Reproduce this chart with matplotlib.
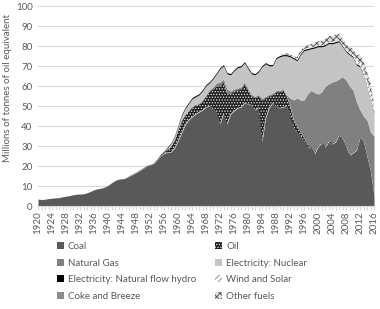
import numpy as np
import matplotlib
matplotlib.use("Agg")
import matplotlib.pyplot as plt
from matplotlib.patches import Patch

plt.rcParams['font.family'] = ['Lato', 'DejaVu Sans']
plt.rcParams['hatch.linewidth'] = 0.6

years = list(range(1920, 2017))

coal = [3.5, 3.2, 3.4, 3.7, 3.9, 4.1, 4.2, 4.6, 4.9, 5.2,
        5.5, 5.8, 5.8, 6.0, 6.5, 7.2, 8.0, 8.5, 8.8, 9.3,
        10.2, 11.5, 12.6, 13.3, 13.5, 13.8, 14.8, 15.6, 16.6, 17.6,
        18.7, 19.8, 20.3, 21.0, 23.0, 25.0, 26.3, 26.8, 27.0, 29.0,
        32.5, 36.5, 40.5, 43.0, 44.5, 46.0, 47.0, 48.0, 49.5, 50.0,
        48.5, 47.0, 41.0, 46.5, 41.0, 46.0, 47.5, 49.0, 49.5, 51.5,
        51.0, 50.5, 48.0, 49.5, 32.0, 44.0, 49.0, 51.5, 50.0, 49.0,
        49.5, 50.0, 46.0, 39.0, 37.0, 35.0, 32.5, 29.5, 29.0, 26.0,
        29.5, 31.5, 29.5, 32.0, 31.0, 32.0, 35.5, 33.5, 29.5, 25.5,
        26.5, 28.0, 34.5, 32.0, 24.5, 17.0, 5.0]

oil = [0.0]*26 + [0.1]*9 + [0.3,
       0.5, 1.5, 3.0, 4.0,
       5.5, 6.0, 5.0, 4.5, 5.0, 4.5, 4.0, 4.5, 5.5, 7.5,
       10.0, 13.0, 19.0, 15.5, 15.5, 10.0, 10.0, 9.0, 9.0, 9.5,
       7.0, 4.5, 6.0, 5.5, 21.0, 10.0, 6.0, 4.0, 7.0, 8.0,
       8.5, 5.0, 4.0, 4.0, 3.0, 2.0, 1.5, 1.0, 0.8, 0.8,
       0.7, 0.7, 0.7, 0.7, 0.7, 0.7, 0.7, 0.6, 0.6, 0.5,
       0.5, 0.5, 0.4, 0.4, 0.4, 0.4, 0.4]

gas = [0.0]*45 + [0.1, 0.1, 0.2, 0.3, 0.5,
       1.0, 1.5, 2.0, 1.5, 2.0, 1.5, 1.0, 1.0, 1.0, 1.0,
       0.8, 0.8, 0.8, 0.8, 0.8, 0.8, 0.8, 0.8, 0.8, 0.7,
       0.6, 0.6, 4.0, 10.0, 14.0, 16.0, 19.0, 25.5, 28.0, 30.0,
       25.8, 24.8, 29.5, 28.3, 30.3, 29.8, 27.3, 30.6, 32.9, 34.0,
       31.0, 23.5, 13.1, 12.6, 18.0, 19.6, 29.6]

nuclear = [0.0]*36 + [0.2, 0.9, 1.2, 1.7,
           1.6, 2.6, 3.1, 3.6, 4.1, 4.0, 4.5, 4.9, 4.8, 3.6,
           4.1, 4.6, 6.6, 6.6, 7.6, 8.1, 9.1, 10.1, 10.1, 9.6,
           9.8, 10.3, 10.8, 11.3, 15.8, 16.3, 14.3, 13.8, 15.8, 16.9,
           16.5, 19.5, 20.6, 20.6, 18.6, 22.6, 24.7, 22.1, 20.8, 22.2,
           23.6, 22.6, 20.4, 20.2, 19.1, 19.1, 18.6, 14.9, 14.1, 15.6,
           16.2, 18.5, 21.6, 20.6, 16.6, 16.0, 11.6]

hydro = [0.0]*10 + [0.1]*21 + [0.2]*5 + [0.4]*4 + [0.6]*56 + [0.5]

wind_solar = [0.0]*75 + [0.1, 0.1, 0.1, 0.1, 0.1,
              0.1, 0.1, 0.1, 0.1, 0.2, 0.3, 0.4, 0.5, 0.6, 0.8,
              0.9, 1.4, 1.7, 2.5, 2.8, 3.5, 2.0]

coke_breeze = [0.0]*30 + [0.1]*30 + [0.0]*37

other_fuels = [0.0]*70 + [0.5, 0.6, 0.7, 0.9, 1.1,
               1.2, 1.4, 1.5, 1.7, 1.9, 2.1, 2.3, 2.6, 2.9, 3.1,
               3.3, 3.2, 3.0, 2.4, 2.6, 2.9, 3.1, 3.8, 3.5, 4.2,
               4.0, 2.0]

labels = ['Coal', 'Oil', 'Natural Gas', 'Electricity: Nuclear',
          'Electricity: Natural flow hydro', 'Wind and Solar',
          'Coke and Breeze', 'Other fuels']

styles = [
    dict(facecolor='#595959', edgecolor='#595959', hatch=None),
    dict(facecolor='#1f1f1f', edgecolor='#f0f0f0', hatch='......'),
    dict(facecolor='#808080', edgecolor='#808080', hatch=None),
    dict(facecolor='#c4c4c4', edgecolor='#c4c4c4', hatch=None),
    dict(facecolor='#000000', edgecolor='#000000', hatch=None),
    dict(facecolor='#ffffff', edgecolor='#7f7f7f', hatch='//////'),
    dict(facecolor='#8c8c8c', edgecolor='#8c8c8c', hatch=None),
    dict(facecolor='#e0e0e0', edgecolor='#4d4d4d', hatch='xxxxx'),
]

series = [coal, oil, gas, nuclear, hydro, wind_solar, coke_breeze, other_fuels]

W, H = 380, 309
fig = plt.figure(figsize=(W/100, H/100), dpi=100)
ax = fig.add_axes([38/W, 1-206/H, (374-38)/W, 200/H])

x = np.array(years)
base = np.zeros(len(years))
for vals, st in zip(series, styles):
    v = np.array(vals, dtype=float)
    ax.fill_between(x, base, base+v, facecolor=st['facecolor'],
                    edgecolor=st['edgecolor'], hatch=st['hatch'],
                    linewidth=0, zorder=2)
    base = base + v

ax.set_xlim(1920, 2016)
ax.set_ylim(0, 100)
ax.set_yticks(range(0, 101, 10))
ax.yaxis.grid(True, color='#d9d9d9', linewidth=0.8, zorder=0)
ax.set_axisbelow(True)
for s in ['top', 'right', 'left']:
    ax.spines[s].set_visible(False)
ax.spines['bottom'].set_color('#d9d9d9')
ax.spines['bottom'].set_zorder(3)
ax.set_xticks(years)
ax.set_xticklabels([str(y) if (y - 1920) % 4 == 0 else '' for y in years],
                   rotation=90, fontsize=7, color='#595959')
ax.tick_params(axis='x', length=3, color='#d9d9d9', pad=1)
ax.tick_params(axis='y', length=0, labelsize=7, labelcolor='#595959', pad=4)
fig.text(8/W, 1-88/H, 'Millions of tonnes of oil equivalent', rotation=90,
         ha='center', va='center', fontsize=7, color='#595959')

handles = [Patch(facecolor=st['facecolor'], edgecolor=st['edgecolor'],
                 hatch=st['hatch'], linewidth=0) for st in styles]
order = [0, 2, 4, 6, 1, 3, 5, 7]
leg = fig.legend([handles[i] for i in order], [labels[i] for i in order],
                 ncol=2, loc='upper left', bbox_to_anchor=(57/W, 1-242/H),
                 frameon=False, fontsize=7, handlelength=0.7, handleheight=0.7,
                 handletextpad=0.4, columnspacing=2.0, labelspacing=0.78,
                 borderpad=0, borderaxespad=0)
for t in leg.get_texts():
    t.set_color('#595959')

fig.savefig('out.png', dpi=100)
